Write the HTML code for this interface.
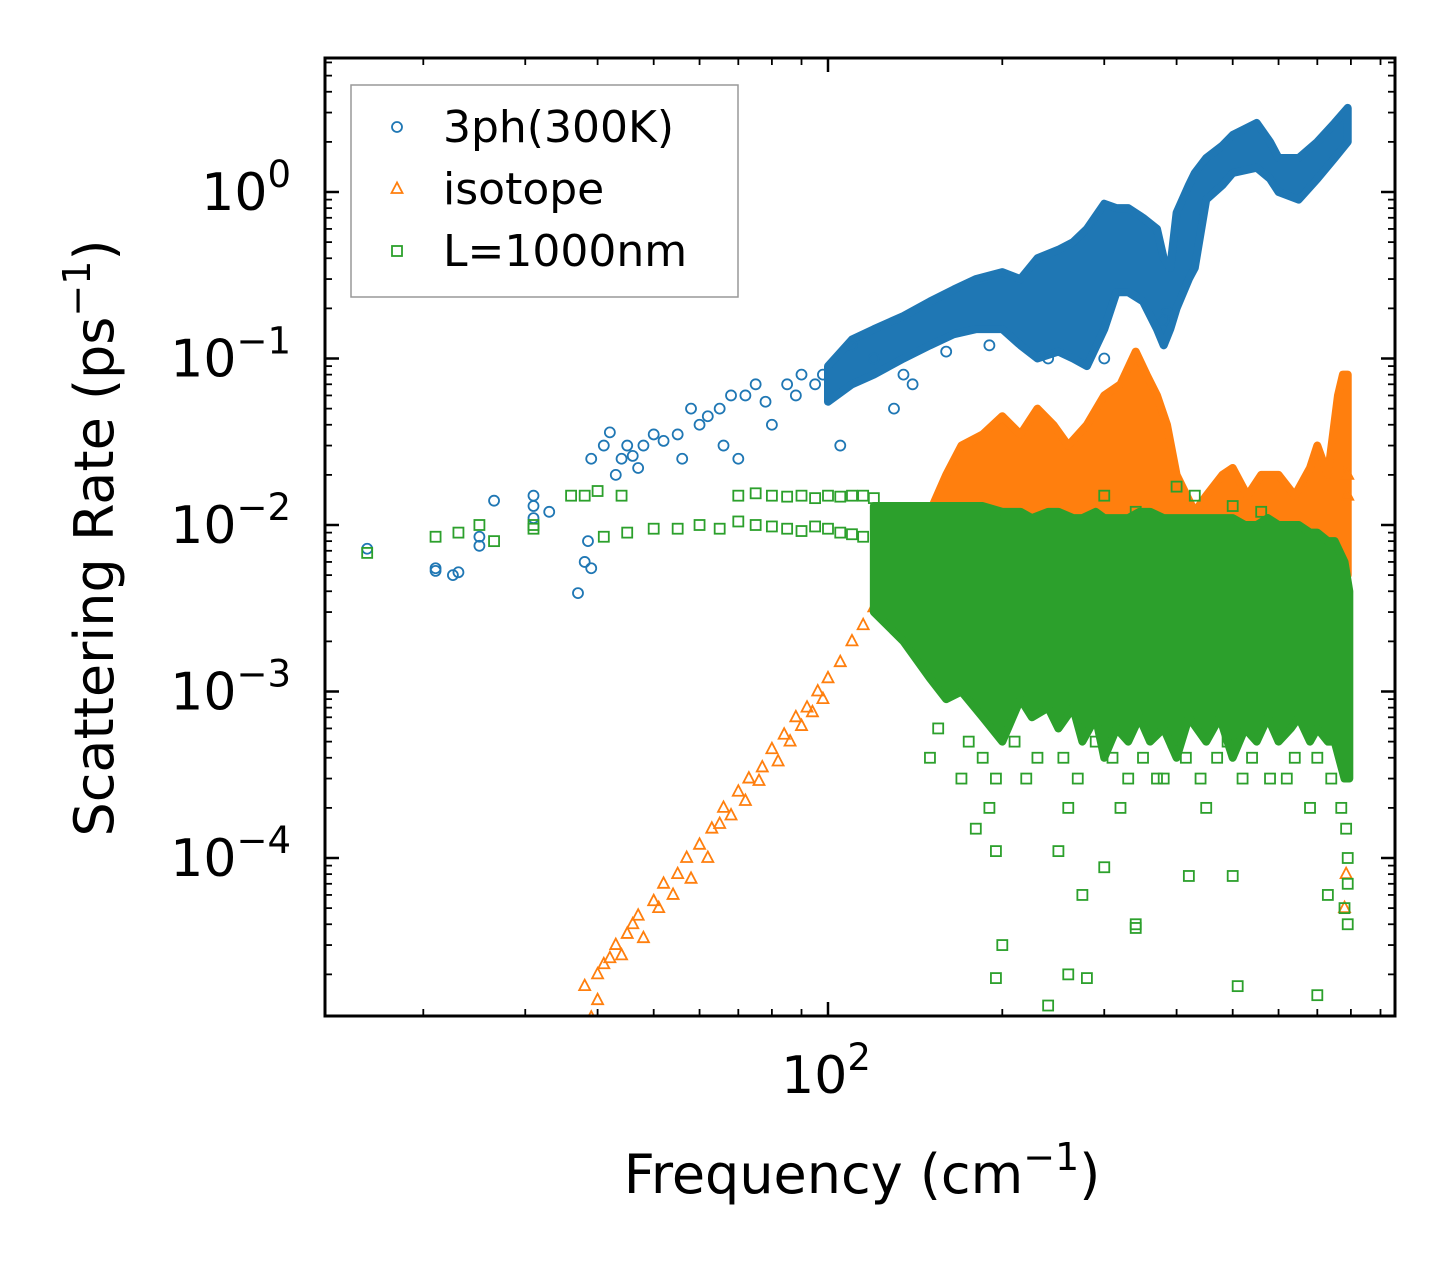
<!DOCTYPE html>
<html><head><meta charset="utf-8"><style>
body{margin:0;background:#fff;}
svg{display:block;font-family:"DejaVu Sans","Liberation Sans",sans-serif;}
</style></head><body>
<svg id="chart" width="1455" height="1265" viewBox="0 0 1455 1265" xmlns="http://www.w3.org/2000/svg">
<rect width="1455" height="1265" fill="#fff"/>
<g id="marks"></g>
<g id="axes"></g>
</svg>
<script>
// ---- data ----
const blueFreq=[16,21,21,22.5,23,25,25,26.5,31,31,31,33,37,38,38.5,39,39,41,42,43,44,45,46,47,48,50,52,55,56,58,60,62,65,66,68,70,72,75,78,80,85,88,90,95,98,105,110,120,130,135,140,160,190,240,300,380,385];
const blueVal=[0.0072,0.0055,0.0053,0.005,0.0052,0.0085,0.0075,0.014,0.015,0.013,0.011,0.012,0.0039,0.006,0.008,0.0055,0.025,0.03,0.036,0.02,0.025,0.03,0.026,0.022,0.03,0.035,0.032,0.035,0.025,0.05,0.04,0.045,0.05,0.03,0.06,0.025,0.06,0.07,0.055,0.04,0.07,0.06,0.08,0.07,0.08,0.03,0.12,0.1,0.05,0.08,0.07,0.11,0.12,0.1,0.1,0.17,0.19];
const blueBandFreq=[100,110,120,135,150,165,180,200,215,230,250,265,280,300,315,330,350,370,380,390,400,420,430,450,480,500,550,580,600,650,700,750,790];
const blueBandUp=[0.09,0.13,0.15,0.18,0.22,0.26,0.3,0.33,0.3,0.4,0.45,0.5,0.6,0.85,0.8,0.8,0.7,0.6,0.4,0.35,0.75,1.1,1.3,1.6,1.9,2.2,2.6,2.0,1.6,1.6,2.0,2.6,3.2];
const blueBandLo=[0.055,0.07,0.08,0.1,0.12,0.14,0.15,0.15,0.12,0.1,0.11,0.1,0.09,0.15,0.25,0.25,0.22,0.15,0.12,0.15,0.2,0.3,0.35,0.9,1.1,1.3,1.4,1.2,1.0,0.9,1.2,1.6,2.0];

const orangeFreq=[38,39,40,41,43,45,47,50,52,55,57,60,63,66,70,73,77,80,84,88,92,96,100,105,110,115,120,130,140,790,790,780,785,40,42,44,46,48,51,54,58,62,65,68,72,76,82,86,90,94,98];
const orangeVal=[1.7e-5,1.1e-5,2e-5,2.3e-5,3e-5,3.5e-5,4.5e-5,5.5e-5,7e-5,8e-5,1e-4,1.2e-4,1.5e-4,2e-4,2.5e-4,3e-4,3.5e-4,4.5e-4,5.5e-4,7e-4,8e-4,1e-3,1.2e-3,1.5e-3,2e-3,2.5e-3,3.2e-3,5e-3,8e-3,0.015,0.02,5e-5,8e-5,1.4e-5,2.5e-5,2.6e-5,4e-5,3.3e-5,5e-5,6e-5,7.5e-5,1e-4,1.6e-4,1.8e-4,2.2e-4,2.9e-4,3.8e-4,5e-4,6.2e-4,7.5e-4,9e-4];
const orangeBandFreq=[140,150,160,170,185,200,215,230,245,260,280,300,320,340,355,370,385,400,430,450,480,500,530,560,600,640,680,700,730,760,775,790];
const orangeBandUp=[0.008,0.012,0.02,0.03,0.035,0.045,0.035,0.05,0.04,0.03,0.04,0.06,0.07,0.11,0.08,0.06,0.04,0.02,0.012,0.015,0.02,0.022,0.015,0.02,0.02,0.015,0.022,0.03,0.02,0.06,0.08,0.08];
const orangeBandLo=[0.004,0.005,0.005,0.005,0.005,0.005,0.005,0.005,0.005,0.005,0.005,0.005,0.005,0.005,0.005,0.005,0.005,0.005,0.005,0.005,0.005,0.005,0.005,0.005,0.005,0.005,0.005,0.005,0.005,0.005,0.005,0.005];

const greenFreq=[16,21,23,25,26.5,31,31,36,38,40,41,44,45,50,55,60,65,70,75,80,85,90,95,100,105,110,115,70,75,80,85,90,95,100,105,110,115,120,160,180,190,195,200,195,250,260,275,280,300,340,340,420,500,510,700,730,780,790,300,340,400,430,500,560,240,150,170,220,260,320,380,450,520,620,680,155,175,185,195,210,230,255,270,290,310,330,350,370,395,415,440,470,490,540,580,640,700,740,770,785,790,790];
const greenVal=[0.0068,0.0085,0.009,0.01,0.008,0.0095,0.01,0.015,0.015,0.016,0.0085,0.015,0.009,0.0095,0.0095,0.01,0.0095,0.0105,0.01,0.0098,0.0095,0.0092,0.0098,0.0095,0.009,0.0088,0.0085,0.015,0.0155,0.015,0.0148,0.015,0.0145,0.015,0.0148,0.015,0.015,0.0145,0.0025,0.00015,0.0002,0.00011,0.00003,0.000019,0.00011,0.00002,0.00006,0.000019,0.000088,0.00004,0.000038,0.000078,0.000078,0.000017,0.000015,0.00006,0.00005,0.00004,0.015,0.012,0.017,0.015,0.013,0.012,0.000013,0.0004,0.0003,0.0003,0.0002,0.0002,0.0003,0.0002,0.0003,0.0003,0.0002,0.0006,0.0005,0.0004,0.0003,0.0005,0.0004,0.0004,0.0003,0.0005,0.0004,0.0003,0.0004,0.0003,0.0005,0.0004,0.0003,0.0004,0.0005,0.0004,0.0003,0.0004,0.0004,0.0003,0.0002,0.00015,0.0001,0.00007];
const greenBandFreq=[120,135,150,160,170,185,200,215,225,240,250,265,275,290,300,315,330,345,360,380,400,420,450,475,500,525,550,575,600,630,650,680,700,730,750,780,795];
const greenBandUp=[0.013,0.013,0.013,0.013,0.013,0.013,0.012,0.012,0.011,0.012,0.012,0.011,0.011,0.012,0.011,0.011,0.011,0.012,0.012,0.011,0.011,0.011,0.011,0.011,0.011,0.01,0.01,0.011,0.01,0.01,0.01,0.009,0.009,0.008,0.008,0.006,0.004];
const greenBandLo=[0.003,0.002,0.0012,0.0009,0.001,0.0007,0.0005,0.0009,0.0007,0.0008,0.0006,0.0008,0.0005,0.0007,0.0004,0.0006,0.0005,0.0007,0.0005,0.0006,0.0004,0.0007,0.0005,0.0007,0.0004,0.0006,0.0005,0.0007,0.0005,0.0006,0.0007,0.0005,0.0006,0.0005,0.0005,0.0003,0.0003];

const yTickVals=[1,0.1,0.01,0.001,0.0001];
const yTickExp=["0","\u22121","\u22122","\u22123","\u22124"];
const legendLabels=["3ph(300K)","isotope","L=1000nm"];

// ---- scales ----
const L=325,R=1395,T=58,B=1016;
const X0=828, XD=579, Y0=192, YD=166.5;
const xs=f=>X0+XD*Math.log10(f/100);
const ys=v=>Y0-YD*Math.log10(v);
const NS="http://www.w3.org/2000/svg";
const marks=document.getElementById('marks'), axes=document.getElementById('axes');
function mk(tag,attrs,parent){const e=document.createElementNS(NS,tag);for(const k in attrs)e.setAttribute(k,attrs[k]);parent.appendChild(e);return e;}
const C={b:"#1f77b4",o:"#ff7f0e",g:"#2ca02c"};

function band(fr,up,lo,color,name){
  let pts=fr.map((f,i)=>xs(f)+","+ys(up[i]));
  for(let i=fr.length-1;i>=0;i--)pts.push(xs(fr[i])+","+ys(lo[i]));
  const p=mk('polygon',{points:pts.join(' '),fill:color,stroke:color,'stroke-width':8,'stroke-linejoin':'round'},marks);
  
  
}
function marker(type,x,y,color,parent){
  let e;
  if(type==='c') e=mk('circle',{cx:x,cy:y,r:5,fill:'none',stroke:color,'stroke-width':1.8},parent);
  else if(type==='t') e=mk('polygon',{points:`${x},${y-6.5} ${x-5.5},${y+4} ${x+5.5},${y+4}`,fill:'none',stroke:color,'stroke-width':1.8},parent);
  else e=mk('rect',{x:x-5,y:y-5,width:10,height:10,fill:'none',stroke:color,'stroke-width':1.8},parent);
  return e;
}
function scatter(fr,vals,type,color,name){
  fr.forEach((f,i)=>{
    const e=marker(type,xs(f),ys(vals[i]),color,marks);
    
    
  });
}
const clip=mk('clipPath',{id:'pc'},marks); mk('rect',{x:L,y:T,width:R-L,height:B-T},clip);
marks.setAttribute('clip-path','url(#pc)');
band(blueBandFreq,blueBandUp,blueBandLo,C.b,'3ph-dense-band');
scatter(blueFreq,blueVal,'c',C.b,'3ph-point');
band(orangeBandFreq,orangeBandUp,orangeBandLo,C.o,'isotope-dense-band');
scatter(orangeFreq,orangeVal,'t',C.o,'isotope-point');
band(greenBandFreq,greenBandUp,greenBandLo,C.g,'boundary-dense-band');
scatter(greenFreq,greenVal,'s',C.g,'boundary-point');

// ---- axes ----
const frame=mk('rect',{x:L,y:T,width:R-L,height:B-T,fill:'none',stroke:'#000','stroke-width':3},axes);


function tick(x1,y1,x2,y2,w){mk('line',{x1,y1,x2,y2,stroke:'#000','stroke-width':w},axes);}
for(let e=-5;e<=0;e++){for(let m=1;m<10;m++){const v=m*Math.pow(10,e);const y=ys(v);if(y<T||y>B)continue;
  const len=m===1?14:7,w=m===1?2.5:1.8;tick(L,y,L+len,y,w);tick(R,y,R-len,y,w);}}
for(let e=1;e<=2;e++){for(let m=1;m<10;m++){const f=m*Math.pow(10,e);const x=xs(f);if(x<L||x>R)continue;
  const len=m===1?14:7,w=m===1?2.5:1.8;tick(x,B,x,B-len,w);tick(x,T,x,T+len,w);}}
yTickVals.forEach((v,i)=>{
  const t=mk('text',{x:L-34,y:ys(v)+18,'text-anchor':'end','font-size':52},axes);
  t.innerHTML=`10<tspan dy="-23" font-size="37">${yTickExp[i]}</tspan>`;
  
  
});
const xt=mk('text',{x:xs(100)-2,y:1093,'text-anchor':'middle','font-size':52},axes);
xt.innerHTML='10<tspan dy="-23" font-size="37">2</tspan>';


const xl=mk('text',{x:862,y:1193,'text-anchor':'middle','font-size':54},axes);
xl.innerHTML='Frequency (cm<tspan dy="-23" font-size="38">\u22121</tspan><tspan dy="23">)</tspan>';


const yl=mk('text',{x:0,y:0,'text-anchor':'middle','font-size':54,transform:'translate(113,538) rotate(-90)'},axes);
yl.innerHTML='Scattering Rate (ps<tspan dy="-23" font-size="38">\u22121</tspan><tspan dy="23">)</tspan>';


const lg=mk('g',{},axes);


mk('rect',{x:351,y:85,width:387,height:212,fill:'#fff',stroke:'#999','stroke-width':1.5},lg);
const types=['c','t','s'],cols=[C.b,C.o,C.g];
legendLabels.forEach((lab,i)=>{
  const y=127+i*62;
  marker(types[i],397,y,cols[i],lg);
  const t=mk('text',{x:443,y:y+15,'font-size':44},lg);
  t.textContent=lab;
  
  
});
</script>
</body></html>
